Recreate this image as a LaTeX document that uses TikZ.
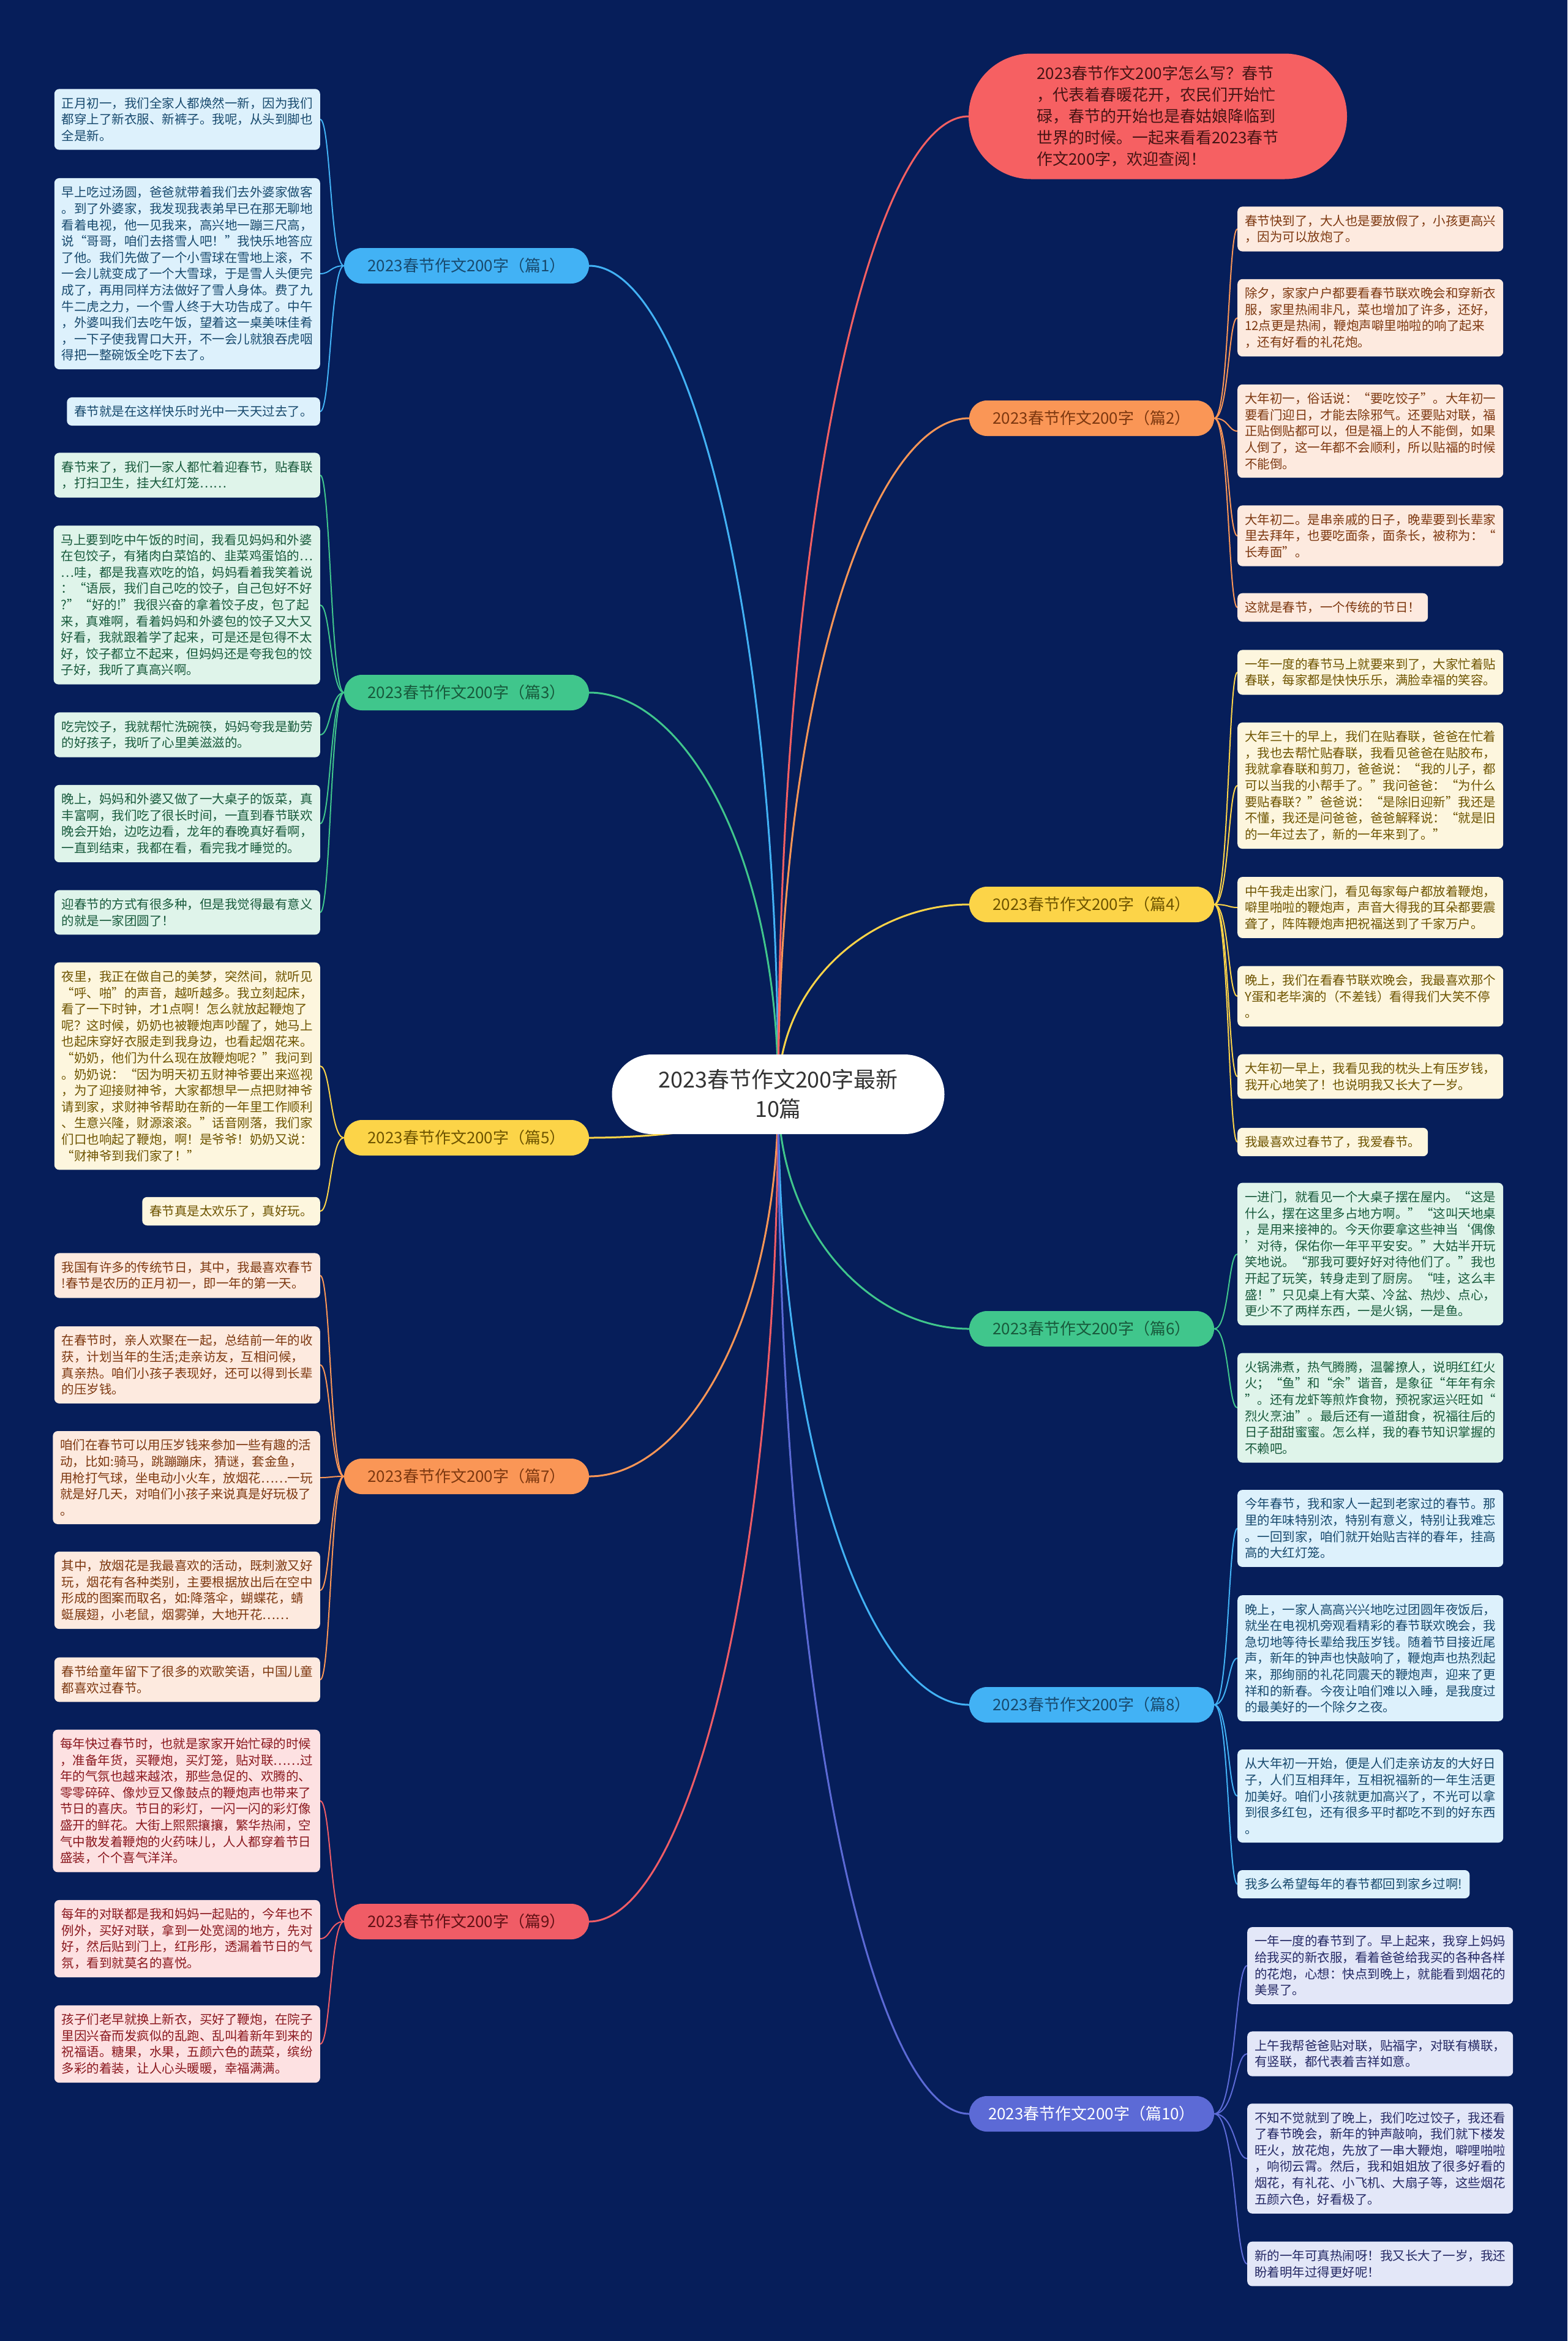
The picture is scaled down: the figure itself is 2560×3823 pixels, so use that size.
\documentclass[tikz,border=0pt]{standalone}
\usepackage{fontspec}
\setmainfont{Noto Sans CJK SC}
\usetikzlibrary{calc}
\definecolor{cBg}{RGB}{6,30,90}
\definecolor{cBlue}{RGB}{66,178,245}
\definecolor{cGreen}{RGB}{64,198,140}
\definecolor{cYellow}{RGB}{252,212,72}
\definecolor{cOrange}{RGB}{250,150,86}
\definecolor{cRed}{RGB}{240,92,102}
\definecolor{cPurple}{RGB}{92,106,214}
\definecolor{cSum}{RGB}{246,96,98}
\definecolor{fBlue}{RGB}{221,241,252}
\definecolor{fGreen}{RGB}{223,244,234}
\definecolor{fYellow}{RGB}{253,246,222}
\definecolor{fOrange}{RGB}{253,234,223}
\definecolor{fRed}{RGB}{253,225,226}
\definecolor{fPurple}{RGB}{227,231,248}
\definecolor{tBlue}{RGB}{24,74,110}
\definecolor{tGreen}{RGB}{24,90,60}
\definecolor{tYellow}{RGB}{110,84,0}
\definecolor{tOrange}{RGB}{125,56,16}
\definecolor{tRed}{RGB}{138,24,30}
\definecolor{tPurple}{RGB}{36,40,100}
\pgfdeclarelayer{bgl}
\pgfdeclarelayer{links}
\pgfsetlayers{bgl,links,main}

\begin{document}
\begin{tikzpicture}[x=1pt,y=-1pt,
    leaf/.style={rectangle,rounded corners=8pt,align=left,inner xsep=12pt,inner ysep=13.5pt,font=\fontsize{20.5}{26.6}\selectfont},
    lleaf/.style={leaf,anchor=east},
    rleaf/.style={leaf,anchor=west},
    gBlue/.style={fill=fBlue,text=tBlue},
    gGreen/.style={fill=fGreen,text=tGreen},
    gYellow/.style={fill=fYellow,text=tYellow},
    gOrange/.style={fill=fOrange,text=tOrange},
    gRed/.style={fill=fRed,text=tRed},
    gPurple/.style={fill=fPurple,text=tPurple},
    branch/.style={rectangle,rounded corners=29pt,minimum width=400pt,minimum height=58pt,inner sep=0pt,font=\fontsize{26}{30}\selectfont},
    hub/.style={rectangle,rounded corners=65pt,fill=white,text=black!80,minimum width=543pt,minimum height=130pt,align=center,font=\fontsize{36}{48}\selectfont},
    sumbox/.style={rectangle,rounded corners=102pt,fill=cSum,text={rgb,255:red,70;green,20;blue,20},minimum width=618pt,minimum height=205pt,align=left,font=\fontsize{26}{35}\selectfont},
    hublink/.style={line width=3pt},
    leaflink/.style={line width=2pt}
  ]
  \useasboundingbox (0,0) rectangle (2560,3823);
  \begin{pgfonlayer}{bgl}
    \fill[cBg] (0,0) rectangle (2560,3823);
  \end{pgfonlayer}

  % centre and summary
  \node[hub] (ctr) at (1271,1787) {2023春节作文200字最新\\10篇};
  \node[sumbox] (sum) at (1891,190) {2023春节作文200字怎么写？春节\\，代表着春暖花开，农民们开始忙\\碌，春节的开始也是春姑娘降临到\\世界的时候。一起来看看2023春节\\作文200字，欢迎查阅！};

  % branches
  \node[branch,fill=cBlue,text=tBlue]     (b1) at (762,434)  {2023春节作文200字（篇1）};
  \node[branch,fill=cGreen,text=tGreen]   (b3) at (762,1131) {2023春节作文200字（篇3）};
  \node[branch,fill=cYellow,text=tYellow] (b5) at (762,1858) {2023春节作文200字（篇5）};
  \node[branch,fill=cOrange,text=tOrange] (b7) at (762,2411) {2023春节作文200字（篇7）};
  \node[branch,fill=cRed,text=tRed!70!black] (b9) at (762,3138) {2023春节作文200字（篇9）};
  \node[branch,fill=cOrange,text=tOrange] (b2) at (1783,683)  {2023春节作文200字（篇2）};
  \node[branch,fill=cYellow,text=tYellow] (b4) at (1783,1477) {2023春节作文200字（篇4）};
  \node[branch,fill=cGreen,text=tGreen]   (b6) at (1783,2170) {2023春节作文200字（篇6）};
  \node[branch,fill=cBlue,text=tBlue]     (b8) at (1783,2784) {2023春节作文200字（篇8）};
  \node[branch,fill=cPurple,text=white]   (b10) at (1783,3452) {2023春节作文200字（篇10）};

  % 篇1
  \node[lleaf,gBlue] (l1a) at (523,195) {正月初一，我们全家人都焕然一新，因为我们\\都穿上了新衣服、新裤子。我呢，从头到脚也\\全是新。};
  \node[lleaf,gBlue] (l1b) at (523,447) {早上吃过汤圆，爸爸就带着我们去外婆家做客\\。到了外婆家，我发现我表弟早已在那无聊地\\看着电视，他一见我来，高兴地一蹦三尺高，\\说“哥哥，咱们去搭雪人吧！”我快乐地答应\\了他。我们先做了一个小雪球在雪地上滚，不\\一会儿就变成了一个大雪球，于是雪人头便完\\成了，再用同样方法做好了雪人身体。费了九\\牛二虎之力，一个雪人终于大功告成了。中午\\，外婆叫我们去吃午饭，望着这一桌美味佳肴\\，一下子使我胃口大开，不一会儿就狼吞虎咽\\得把一整碗饭全吃下去了。};
  \node[lleaf,gBlue] (l1c) at (523,672) {春节就是在这样快乐时光中一天天过去了。};

  % 篇3
  \node[lleaf,gGreen] (l3a) at (523,776) {春节来了，我们一家人都忙着迎春节，贴春联\\，打扫卫生，挂大红灯笼……};
  \node[lleaf,gGreen] (l3b) at (523,988) {马上要到吃中午饭的时间，我看见妈妈和外婆\\在包饺子，有猪肉白菜馅的、韭菜鸡蛋馅的…\\…哇，都是我喜欢吃的馅，妈妈看着我笑着说\\：“语辰，我们自己吃的饺子，自己包好不好\\?”“好的!”我很兴奋的拿着饺子皮，包了起\\来，真难啊，看着妈妈和外婆包的饺子又大又\\好看，我就跟着学了起来，可是还是包得不太\\好，饺子都立不起来，但妈妈还是夸我包的饺\\子好，我听了真高兴啊。};
  \node[lleaf,gGreen] (l3c) at (523,1200) {吃完饺子，我就帮忙洗碗筷，妈妈夸我是勤劳\\的好孩子，我听了心里美滋滋的。};
  \node[lleaf,gGreen] (l3d) at (523,1345) {晚上，妈妈和外婆又做了一大桌子的饭菜，真\\丰富啊，我们吃了很长时间，一直到春节联欢\\晚会开始，边吃边看，龙年的春晚真好看啊，\\一直到结束，我都在看，看完我才睡觉的。};
  \node[lleaf,gGreen] (l3e) at (523,1490) {迎春节的方式有很多种，但是我觉得最有意义\\的就是一家团圆了！};

  % 篇5
  \node[lleaf,gYellow] (l5a) at (523,1741) {夜里，我正在做自己的美梦，突然间，就听见\\“呼、啪”的声音，越听越多。我立刻起床，\\看了一下时钟，才1点啊！怎么就放起鞭炮了\\呢？这时候，奶奶也被鞭炮声吵醒了，她马上\\也起床穿好衣服走到我身边，也看起烟花来。\\“奶奶，他们为什么现在放鞭炮呢？”我问到\\。奶奶说：“因为明天初五财神爷要出来巡视\\，为了迎接财神爷，大家都想早一点把财神爷\\请到家，求财神爷帮助在新的一年里工作顺利\\、生意兴隆，财源滚滚。”话音刚落，我们家\\们口也响起了鞭炮，啊！是爷爷！奶奶又说：\\“财神爷到我们家了！”};
  \node[lleaf,gYellow] (l5b) at (523,1978) {春节真是太欢乐了，真好玩。};

  % 篇7
  \node[lleaf,gOrange] (l7a) at (523,2083) {我国有许多的传统节日，其中，我最喜欢春节\\!春节是农历的正月初一，即一年的第一天。};
  \node[lleaf,gOrange] (l7b) at (523,2229) {在春节时，亲人欢聚在一起，总结前一年的收\\获，计划当年的生活;走亲访友，互相问候，\\真亲热。咱们小孩子表现好，还可以得到长辈\\的压岁钱。};
  \node[lleaf,gOrange] (l7c) at (523,2413) {咱们在春节可以用压岁钱来参加一些有趣的活\\动，比如:骑马，跳蹦蹦床，猜谜，套金鱼，\\用枪打气球，坐电动小火车，放烟花……一玩\\就是好几天，对咱们小孩子来说真是好玩极了\\。};
  \node[lleaf,gOrange] (l7d) at (523,2597) {其中，放烟花是我最喜欢的活动，既刺激又好\\玩，烟花有各种类别，主要根据放出后在空中\\形成的图案而取名，如:降落伞，蝴蝶花，蜻\\蜓展翅，小老鼠，烟雾弹，大地开花……};
  \node[lleaf,gOrange] (l7e) at (523,2743) {春节给童年留下了很多的欢歌笑语，中国儿童\\都喜欢过春节。};

  % 篇9
  \node[lleaf,gRed] (l9a) at (523,2941) {每年快过春节时，也就是家家开始忙碌的时候\\，准备年货，买鞭炮，买灯笼，贴对联……过\\年的气氛也越来越浓，那些急促的、欢腾的、\\零零碎碎、像炒豆又像鼓点的鞭炮声也带来了\\节日的喜庆。节日的彩灯，一闪一闪的彩灯像\\盛开的鲜花。大街上熙熙攘攘，繁华热闹，空\\气中散发着鞭炮的火药味儿，人人都穿着节日\\盛装，个个喜气洋洋。};
  \node[lleaf,gRed] (l9b) at (523,3166) {每年的对联都是我和妈妈一起贴的，今年也不\\例外，买好对联，拿到一处宽阔的地方，先对\\好，然后贴到门上，红彤彤，透漏着节日的气\\氛，看到就莫名的喜悦。};
  \node[lleaf,gRed] (l9c) at (523,3338) {孩子们老早就换上新衣，买好了鞭炮，在院子\\里因兴奋而发疯似的乱跑、乱叫着新年到来的\\祝福语。糖果，水果，五颜六色的蔬菜，缤纷\\多彩的着装，让人心头暖暖，幸福满满。};

  % 篇2
  \node[rleaf,gOrange] (l2a) at (2021,374) {春节快到了，大人也是要放假了，小孩更高兴\\，因为可以放炮了。};
  \node[rleaf,gOrange] (l2b) at (2021,519) {除夕，家家户户都要看春节联欢晚会和穿新衣\\服，家里热闹非凡，菜也增加了许多，还好，\\12点更是热闹，鞭炮声噼里啪啦的响了起来\\，还有好看的礼花炮。};
  \node[rleaf,gOrange] (l2c) at (2021,704) {大年初一，俗话说：“要吃饺子”。大年初一\\要看门迎日，才能去除邪气。还要贴对联，福\\正贴倒贴都可以，但是福上的人不能倒，如果\\人倒了，这一年都不会顺利，所以贴福的时候\\不能倒。};
  \node[rleaf,gOrange] (l2d) at (2021,875) {大年初二。是串亲戚的日子，晚辈要到长辈家\\里去拜年，也要吃面条，面条长，被称为：“\\长寿面”。};
  \node[rleaf,gOrange] (l2e) at (2021,992) {这就是春节，一个传统的节日！};

  % 篇4
  \node[rleaf,gYellow] (l4a) at (2021,1098) {一年一度的春节马上就要来到了，大家忙着贴\\春联，每家都是快快乐乐，满脸幸福的笑容。};
  \node[rleaf,gYellow] (l4b) at (2021,1283) {大年三十的早上，我们在贴春联，爸爸在忙着\\，我也去帮忙贴春联，我看见爸爸在贴胶布，\\我就拿春联和剪刀，爸爸说：“我的儿子，都\\可以当我的小帮手了。”我问爸爸：“为什么\\要贴春联？”爸爸说：“是除旧迎新”我还是\\不懂，我还是问爸爸，爸爸解释说：“就是旧\\的一年过去了，新的一年来到了。”};
  \node[rleaf,gYellow] (l4c) at (2021,1482) {中午我走出家门，看见每家每户都放着鞭炮，\\噼里啪啦的鞭炮声，声音大得我的耳朵都要震\\聋了，阵阵鞭炮声把祝福送到了千家万户。};
  \node[rleaf,gYellow] (l4d) at (2021,1627) {晚上，我们在看春节联欢晚会，我最喜欢那个\\Y蛋和老毕演的（不差钱）看得我们大笑不停\\。};
  \node[rleaf,gYellow] (l4e) at (2021,1758) {大年初一早上，我看见我的枕头上有压岁钱，\\我开心地笑了！也说明我又长大了一岁。};
  \node[rleaf,gYellow] (l4f) at (2021,1865) {我最喜欢过春节了，我爱春节。};

  % 篇6
  \node[rleaf,gGreen] (l6a) at (2021,2048) {一进门，就看见一个大桌子摆在屋内。“这是\\什么，摆在这里多占地方啊。”“这叫天地桌\\，是用来接神的。今天你要拿这些神当‘偶像\\’对待，保佑你一年平平安安。”大姑半开玩\\笑地说。“那我可要好好对待他们了。”我也\\开起了玩笑，转身走到了厨房。“哇，这么丰\\盛！”只见桌上有大菜、冷盆、热炒、点心，\\更少不了两样东西，一是火锅，一是鱼。};
  \node[rleaf,gGreen] (l6b) at (2021,2299) {火锅沸煮，热气腾腾，温馨撩人，说明红红火\\火；“鱼”和“余”谐音，是象征“年年有余\\”。还有龙虾等煎炸食物，预祝家运兴旺如“\\烈火烹油”。最后还有一道甜食，祝福往后的\\日子甜甜蜜蜜。怎么样，我的春节知识掌握的\\不赖吧。};

  % 篇8
  \node[rleaf,gBlue] (l8a) at (2021,2496) {今年春节，我和家人一起到老家过的春节。那\\里的年味特别浓，特别有意义，特别让我难忘\\。一回到家，咱们就开始贴吉祥的春年，挂高\\高的大红灯笼。};
  \node[rleaf,gBlue] (l8b) at (2021,2708) {晚上，一家人高高兴兴地吃过团圆年夜饭后，\\就坐在电视机旁观看精彩的春节联欢晚会，我\\急切地等待长辈给我压岁钱。随着节目接近尾\\声，新年的钟声也快敲响了，鞭炮声也热烈起\\来，那绚丽的礼花同震天的鞭炮声，迎来了更\\祥和的新春。今夜让咱们难以入睡，是我度过\\的最美好的一个除夕之夜。};
  \node[rleaf,gBlue] (l8c) at (2021,2933) {从大年初一开始，便是人们走亲访友的大好日\\子，人们互相拜年，互相祝福新的一年生活更\\加美好。咱们小孩就更加高兴了，不光可以拿\\到很多红包，还有很多平时都吃不到的好东西\\。};
  \node[rleaf,gBlue] (l8d) at (2021,3077) {我多么希望每年的春节都回到家乡过啊!};

  % 篇10
  \node[rleaf,gPurple] (l10a) at (2037,3210) {一年一度的春节到了。早上起来，我穿上妈妈\\给我买的新衣服，看着爸爸给我买的各种各样\\的花炮，心想：快点到晚上，就能看到烟花的\\美景了。};
  \node[rleaf,gPurple] (l10b) at (2037,3354) {上午我帮爸爸贴对联，贴福字，对联有横联，\\有竖联，都代表着吉祥如意。};
  \node[rleaf,gPurple] (l10c) at (2037,3525) {不知不觉就到了晚上，我们吃过饺子，我还看\\了春节晚会，新年的钟声敲响，我们就下楼发\\旺火，放花炮，先放了一串大鞭炮，噼哩啪啦\\，响彻云霄。然后，我和姐姐放了很多好看的\\烟花，有礼花、小飞机、大扇子等，这些烟花\\五颜六色，好看极了。};
  \node[rleaf,gPurple] (l10d) at (2037,3697) {新的一年可真热闹呀！我又长大了一岁，我还\\盼着明年过得更好呢！};

  \begin{pgfonlayer}{links}
    % centre to branches
    \foreach \b/\col in {b1/cBlue,b3/cGreen,b5/cYellow,b7/cOrange,b9/cRed}
      \draw[hublink,\col] (ctr.center) .. controls ($(ctr.center)!0.6!(ctr.center|-\b.east)$) and ($(\b.east)!0.5!(ctr.center|-\b.east)$) .. (\b.east);
    \foreach \b/\col in {b2/cOrange,b4/cYellow,b6/cGreen,b8/cBlue,b10/cPurple}
      \draw[hublink,\col] (ctr.center) .. controls ($(ctr.center)!0.6!(ctr.center|-\b.west)$) and ($(\b.west)!0.5!(ctr.center|-\b.west)$) .. (\b.west);
    \draw[hublink,cSum] (ctr.center) .. controls ($(ctr.center)!0.6!(ctr.center|-sum.west)$) and ($(sum.west)!0.5!(ctr.center|-sum.west)$) .. (sum.west);

    % branches to leaves
    \foreach \l in {l1a,l1b,l1c} \draw[leaflink,cBlue] (b1.west) .. controls +(-22,0) and +(17,0) .. (\l.east);
    \foreach \l in {l3a,l3b,l3c,l3d,l3e} \draw[leaflink,cGreen] (b3.west) .. controls +(-22,0) and +(17,0) .. (\l.east);
    \foreach \l in {l5a,l5b} \draw[leaflink,cYellow] (b5.west) .. controls +(-22,0) and +(17,0) .. (\l.east);
    \foreach \l in {l7a,l7b,l7c,l7d,l7e} \draw[leaflink,cOrange] (b7.west) .. controls +(-22,0) and +(17,0) .. (\l.east);
    \foreach \l in {l9a,l9b,l9c} \draw[leaflink,cRed] (b9.west) .. controls +(-22,0) and +(17,0) .. (\l.east);
    \foreach \l in {l2a,l2b,l2c,l2d,l2e} \draw[leaflink,cOrange] (b2.east) .. controls +(24,0) and +(-15,0) .. (\l.west);
    \foreach \l in {l4a,l4b,l4c,l4d,l4e,l4f} \draw[leaflink,cYellow] (b4.east) .. controls +(24,0) and +(-15,0) .. (\l.west);
    \foreach \l in {l6a,l6b} \draw[leaflink,cGreen] (b6.east) .. controls +(24,0) and +(-15,0) .. (\l.west);
    \foreach \l in {l8a,l8b,l8c,l8d} \draw[leaflink,cBlue] (b8.east) .. controls +(24,0) and +(-15,0) .. (\l.west);
    \foreach \l in {l10a,l10b,l10c,l10d} \draw[leaflink,cPurple] (b10.east) .. controls +(35,0) and +(-20,0) .. (\l.west);
  \end{pgfonlayer}
\end{tikzpicture}
\end{document}
